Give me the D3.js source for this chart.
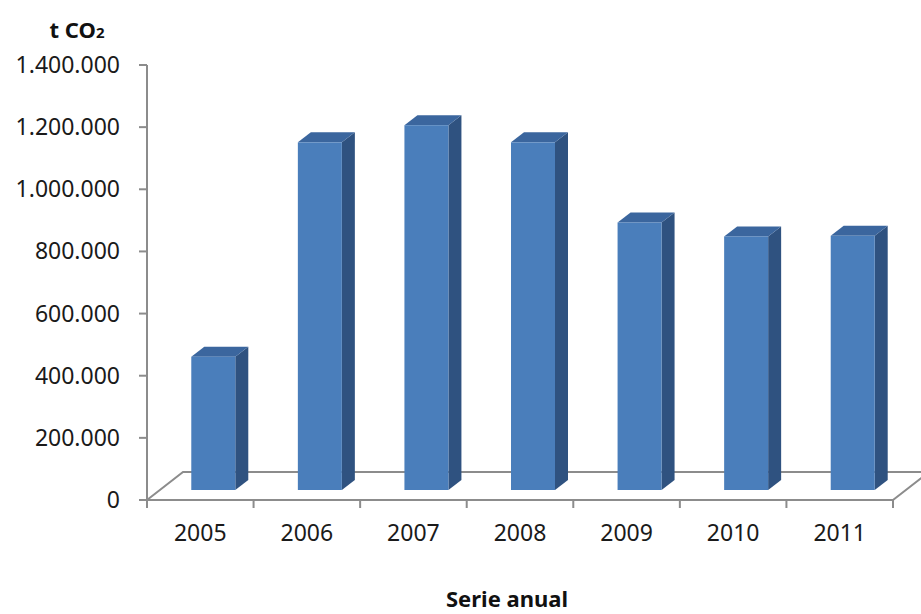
<!DOCTYPE html>
<html>
<head>
<meta charset="utf-8">
<style>
	body { margin: 0; background: #fff; }
	svg { display: block; font-family: "Noto Sans", "Open Sans", sans-serif; }
	.axis-line { stroke: #8c8c8c; stroke-width: 2px; fill: none; }
	.tick-label { font-size: 23px; fill: #1a1a1a; }
	.title { font-size: 22px; font-weight: bold; fill: #111; }
</style>
</head>
<body>
<script src="https://d3js.org/d3.v7.min.js"></script>
<script>
	var years = ["2005", "2006", "2007", "2008", "2009", "2010", "2011"];
	var emissions = [429000, 1119000, 1174000, 1119000, 861000, 816000, 818000];
	var yTicks = [0, 200000, 400000, 600000, 800000, 1000000, 1200000, 1400000];

	var width = 921, height = 614;
	var plotLeft = 147, plotRight = 893, plotBottom = 500, plotTop = 65;
	// floor depth offset (3d look)
	var depthX = 36, depthY = -28;
	// bar sits in middle of floor depth
	var barOffX = 13, barOffY = -10, barDX = 13, barDY = -10;

	var locale = d3.formatLocale({decimal: ",", thousands: ".", grouping: [3], currency: ["", ""]});
	var fmt = locale.format(",d");

	var svg = d3.select("body").append("svg")
		.attr("width", width)
		.attr("height", height);

	var x = d3.scaleBand()
		.domain(years)
		.range([plotLeft, plotRight]);

	var y = d3.scaleLinear()
		.domain([0, 1400000])
		.range([plotBottom, plotTop]);

	// floor outline
	var floor = [[plotLeft, plotBottom], [plotRight, plotBottom], [plotRight + depthX, plotBottom + depthY], [plotLeft + depthX, plotBottom + depthY]];
	svg.append("path")
		.attr("class", "axis-line")
		.attr("d", "M" + floor[0] + "L" + floor[3] + "L" + floor[2] + "L" + floor[1]);

	// bars
	var barW = 44;
	var bars = svg.append("g").selectAll("g")
		.data(years.map(function(d, i) { return {year: d, value: emissions[i]}; }))
		.join("g");

	function bx(d) { return x(d.year) + x.bandwidth() / 2 - barW / 2 + barOffX; }
	function by(d) { return y(d.value) + barOffY; }
	var base = plotBottom + barOffY;

	bars.append("path")
		.attr("fill", "#2f5280")
		.attr("d", function(d) {
			var x1 = bx(d) + barW, y0 = by(d);
			return "M" + x1 + "," + base + "L" + x1 + "," + y0 + "L" + (x1 + barDX) + "," + (y0 + barDY) +
				"L" + (x1 + barDX) + "," + (base + barDY) + "Z";
		});
	bars.append("path")
		.attr("fill", "#3b669e")
		.attr("d", function(d) {
			var x0 = bx(d), y0 = by(d);
			return "M" + x0 + "," + y0 + "L" + (x0 + barW) + "," + y0 + "L" + (x0 + barW + barDX) + "," + (y0 + barDY) +
				"L" + (x0 + barDX) + "," + (y0 + barDY) + "Z";
		});
	bars.append("rect")
		.attr("fill", "#4a7ebb")
		.attr("x", bx)
		.attr("y", by)
		.attr("width", barW)
		.attr("height", function(d) { return base - by(d); });

	// front floor edge drawn over
	svg.append("line")
		.attr("class", "axis-line")
		.attr("x1", plotLeft).attr("x2", plotRight)
		.attr("y1", plotBottom).attr("y2", plotBottom);

	// y axis
	var yAxis = svg.append("g");
	yAxis.append("line")
		.attr("class", "axis-line")
		.attr("x1", plotLeft).attr("x2", plotLeft)
		.attr("y1", plotTop).attr("y2", plotBottom + 8);
	yAxis.selectAll(".ytick")
		.data(yTicks)
		.join("line")
		.attr("class", "axis-line ytick")
		.attr("x1", plotLeft - 8).attr("x2", plotLeft)
		.attr("y1", function(d) { return y(d); })
		.attr("y2", function(d) { return y(d); });
	yAxis.selectAll("text")
		.data(yTicks)
		.join("text")
		.attr("class", "tick-label")
		.attr("text-anchor", "end")
		.attr("x", 120)
		.attr("y", function(d) { return y(d); })
		.attr("dy", "0.35em")
		.text(fmt);

	// x axis ticks
	var xEdges = years.map(function(d) { return x(d); }).concat([plotRight]);
	svg.append("g").selectAll("line")
		.data(xEdges)
		.join("line")
		.attr("class", "axis-line")
		.attr("x1", function(d) { return d; }).attr("x2", function(d) { return d; })
		.attr("y1", plotBottom).attr("y2", plotBottom + 8);
	svg.append("g").selectAll("text")
		.data(years)
		.join("text")
		.attr("class", "tick-label")
		.attr("text-anchor", "middle")
		.attr("x", function(d) { return x(d) + x.bandwidth() / 2; })
		.attr("y", 533)
		.attr("dy", "0.35em")
		.text(function(d) { return d; });

	// titles
	var yt = svg.append("text")
		.attr("class", "title")
		.attr("x", 77)
		.attr("y", 30)
		.attr("dy", "0.35em")
		.attr("text-anchor", "middle");
	yt.append("tspan").text("t CO");
	yt.append("tspan").attr("font-size", "15px").text("2");

	svg.append("text")
		.attr("class", "title")
		.attr("x", 507)
		.attr("y", 599)
		.attr("dy", "0.35em")
		.attr("text-anchor", "middle")
		.text("Serie anual");
</script>
</body>
</html>
